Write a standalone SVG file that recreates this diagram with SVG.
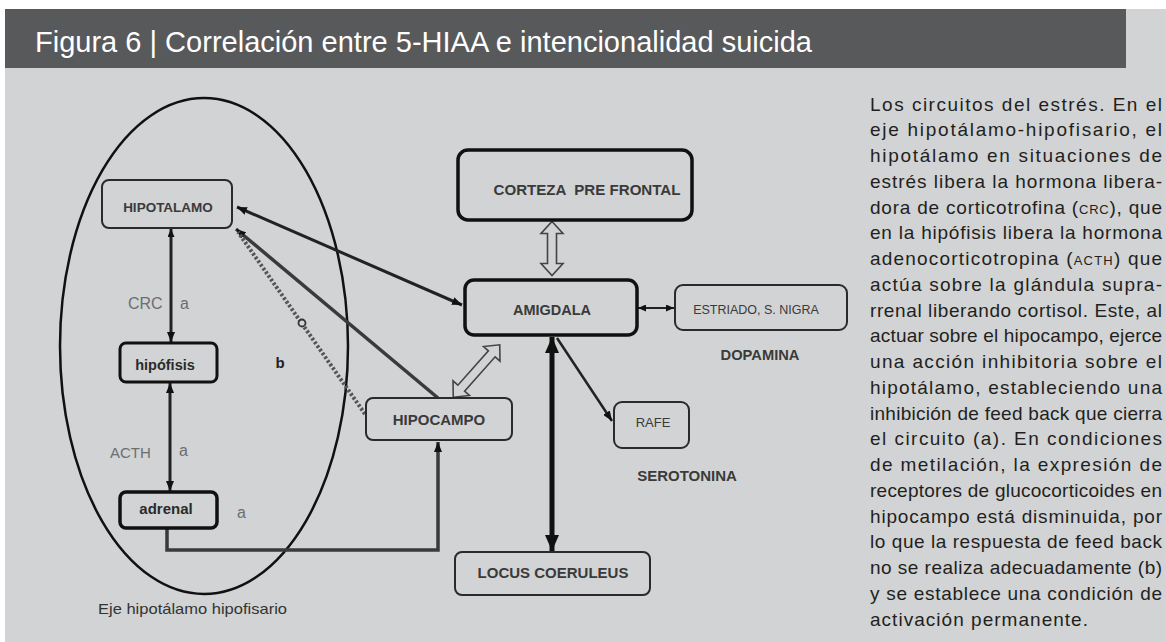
<svg xmlns="http://www.w3.org/2000/svg" width="1166" height="642" viewBox="0 0 1166 642">
<style>
.box{fill:#d1d3d4;stroke:#2a2a2a;stroke-width:2}
.thick{stroke:#111;stroke-width:3.5}
.lbl{font-family:"Liberation Sans",Arial,sans-serif;font-weight:bold;fill:#3a3a3a;text-anchor:middle}
.gl{font-family:"Liberation Sans",Arial,sans-serif;fill:#6d6e70}
.p{font-family:"Liberation Sans",Arial,sans-serif;font-size:19px;fill:#231f20}
.ln{fill:none;stroke:#222;stroke-width:3}
.hollow{fill:#d1d3d4;stroke:#444;stroke-width:1.6}
</style>
<defs>
<marker id="arr" markerUnits="userSpaceOnUse" markerWidth="10" markerHeight="8" refX="10" refY="4" orient="auto-start-reverse"><path d="M0,0 L10,4 L0,8 Z" fill="#111"/></marker>
<marker id="arrSm" markerUnits="userSpaceOnUse" markerWidth="8" markerHeight="7" refX="8" refY="3.5" orient="auto-start-reverse"><path d="M0,0 L8,3.5 L0,7 Z" fill="#111"/></marker>
<marker id="arrBig" markerUnits="userSpaceOnUse" markerWidth="16" markerHeight="14" refX="16" refY="7" orient="auto-start-reverse"><path d="M0,0 L16,7 L0,14 Z" fill="#111"/></marker>
</defs>

<rect x="5" y="9" width="1161" height="633" fill="#d1d3d4"/>
<rect x="5" y="9" width="1121" height="59" fill="#58595b"/>
<text x="35" y="52" font-family="'Liberation Sans',Arial,sans-serif" font-size="30" fill="#ffffff" textLength="777" lengthAdjust="spacingAndGlyphs">Figura 6 | Correlación entre 5-HIAA e intencionalidad suicida</text>

<ellipse id="eje" cx="204" cy="346" rx="144" ry="248" fill="none" stroke="#111" stroke-width="2.5"/>
<text x="98" y="614" class="gl" font-size="15" style="fill:#333" textLength="189" lengthAdjust="spacingAndGlyphs">Eje hipotálamo hipofisario</text>

<g id="connectors">
<line x1="171" y1="229" x2="171" y2="342" class="ln" stroke="#333" marker-start="url(#arrSm)" marker-end="url(#arr)"/>
<line x1="170" y1="383" x2="170" y2="491" class="ln" marker-start="url(#arr)" marker-end="url(#arr)"/>
<path d="M167,529 V550 H438 V442" fill="none" stroke="#3a3a3a" stroke-width="3.5" marker-end="url(#arr)"/>
<line x1="237" y1="207" x2="462" y2="305" class="ln" stroke="#111" marker-start="url(#arr)" marker-end="url(#arr)"/>
<line x1="438" y1="398" x2="236" y2="229" stroke="#3a3a3a" stroke-width="3.5" marker-end="url(#arr)"/>
<line x1="365" y1="414" x2="238" y2="232" stroke="#555" stroke-width="4" stroke-dasharray="2.5 2"/>
<circle cx="302" cy="323" r="3.5" fill="#d1d3d4" stroke="#333" stroke-width="1.8"/>
<line x1="638" y1="308" x2="674" y2="308" stroke="#222" stroke-width="2" marker-start="url(#arrSm)" marker-end="url(#arrSm)"/>
<line x1="557" y1="338" x2="612" y2="421" stroke="#222" stroke-width="2.5" marker-end="url(#arr)"/>
<line x1="552" y1="337" x2="552" y2="551" stroke="#111" stroke-width="5" marker-start="url(#arrBig)" marker-end="url(#arrBig)"/>
<path class="hollow" transform="translate(552,248.5) rotate(90)" d="M-27,0 L-15,-11 L-15,-4.5 L15,-4.5 L15,-11 L27,0 L15,11 L15,4.5 L-15,4.5 L-15,11 Z"/>
<path class="hollow" transform="translate(476.5,371) rotate(131.6)" d="M-35,0 L-23,-11 L-23,-4.5 L23,-4.5 L23,-11 L35,0 L23,11 L23,4.5 L-23,4.5 L-23,11 Z"/>
</g>

<g id="hipotalamo"><rect class="box" x="102" y="180" width="130" height="48" rx="7"/><text class="lbl" x="168" y="212" font-size="13.5">HIPOTALAMO</text></g>
<g id="hipofisis"><rect class="box thick" x="120" y="343" width="97" height="39" rx="6" style="stroke-width:3"/><text class="lbl" x="165" y="370" font-size="14.5" style="fill:#2a2a2a">hipófisis</text></g>
<g id="adrenal"><rect class="box thick" x="120" y="492" width="97" height="36" rx="6"/><text class="lbl" x="166" y="514" font-size="15" style="fill:#2a2a2a">adrenal</text></g>
<g id="corteza"><rect class="box thick" x="458" y="150" width="234" height="70" rx="10"/><text class="lbl" x="587" y="195" font-size="14.5" xml:space="preserve" textLength="187" lengthAdjust="spacingAndGlyphs">CORTEZA  PRE FRONTAL</text></g>
<g id="amigdala"><rect class="box thick" x="465" y="280" width="172" height="55" rx="9"/><text class="lbl" x="552" y="315" font-size="14.5">AMIGDALA</text></g>
<g id="estriado"><rect class="box" x="675" y="285" width="172" height="45" rx="8"/><text class="lbl" x="756" y="314" font-size="12.5" style="font-weight:normal">ESTRIADO, S. NIGRA</text></g>
<g id="hipocampo"><rect class="box" x="366" y="398" width="146" height="42" rx="7"/><text class="lbl" x="439" y="425" font-size="15">HIPOCAMPO</text></g>
<g id="rafe"><rect class="box" x="614" y="402" width="75" height="46" rx="8"/><text class="lbl" x="653" y="427" font-size="13" style="font-weight:normal">RAFE</text></g>
<g id="locus"><rect class="box" x="455" y="552" width="195" height="43" rx="7"/><text class="lbl" x="553" y="578" font-size="15">LOCUS COERULEUS</text></g>

<g id="labels">
<text class="lbl" x="760" y="360" font-size="14.7">DOPAMINA</text>
<text class="lbl" x="687" y="481" font-size="15">SEROTONINA</text>
<text class="gl" x="128" y="309" font-size="16">CRC</text>
<text class="gl" x="180" y="309" font-size="16">a</text>
<text class="gl" x="110" y="458" font-size="15">ACTH</text>
<text class="gl" x="179" y="456" font-size="16">a</text>
<text class="gl" x="237" y="518" font-size="16">a</text>
<text class="lbl" x="280" y="368" font-size="15" style="fill:#222">b</text>
</g>

<g id="caption">
<text class="p" x="870" y="110.5" textLength="292" lengthAdjust="spacing">Los circuitos del estrés. En el</text>
<text class="p" x="870" y="136.25" textLength="292" lengthAdjust="spacing">eje hipotálamo-hipofisario, el</text>
<text class="p" x="870" y="162" textLength="292" lengthAdjust="spacing">hipotálamo en situaciones de</text>
<text class="p" x="870" y="187.75" textLength="292" lengthAdjust="spacing">estrés libera la hormona libera-</text>
<text class="p" x="870" y="213.5" textLength="292" lengthAdjust="spacing">dora de corticotrofina (<tspan font-size="13">CRC</tspan>), que</text>
<text class="p" x="870" y="239.25" textLength="292" lengthAdjust="spacing">en la hipófisis libera la hormona</text>
<text class="p" x="870" y="265" textLength="292" lengthAdjust="spacing">adenocorticotropina (<tspan font-size="13">ACTH</tspan>) que</text>
<text class="p" x="870" y="290.75" textLength="292" lengthAdjust="spacing">actúa sobre la glándula supra-</text>
<text class="p" x="870" y="316.5" textLength="292" lengthAdjust="spacing">rrenal liberando cortisol. Este, al</text>
<text class="p" x="870" y="342.25" textLength="292" lengthAdjust="spacing">actuar sobre el hipocampo, ejerce</text>
<text class="p" x="870" y="368" textLength="292" lengthAdjust="spacing">una acción inhibitoria sobre el</text>
<text class="p" x="870" y="393.75" textLength="292" lengthAdjust="spacing">hipotálamo, estableciendo una</text>
<text class="p" x="870" y="419.5" textLength="292" lengthAdjust="spacing">inhibición de feed back que cierra</text>
<text class="p" x="870" y="445.25" textLength="292" lengthAdjust="spacing">el circuito (a). En condiciones</text>
<text class="p" x="870" y="471" textLength="292" lengthAdjust="spacing">de metilación, la expresión de</text>
<text class="p" x="870" y="496.75" textLength="292" lengthAdjust="spacing">receptores de glucocorticoides en</text>
<text class="p" x="870" y="522.5" textLength="292" lengthAdjust="spacing">hipocampo está disminuida, por</text>
<text class="p" x="870" y="548.25" textLength="292" lengthAdjust="spacing">lo que la respuesta de feed back</text>
<text class="p" x="870" y="574" textLength="292" lengthAdjust="spacing">no se realiza adecuadamente (b)</text>
<text class="p" x="870" y="599.75" textLength="292" lengthAdjust="spacing">y se establece una condición de</text>
<text class="p" x="870" y="625.5" textLength="218" lengthAdjust="spacing">activación permanente.</text>
</g>
</svg>
